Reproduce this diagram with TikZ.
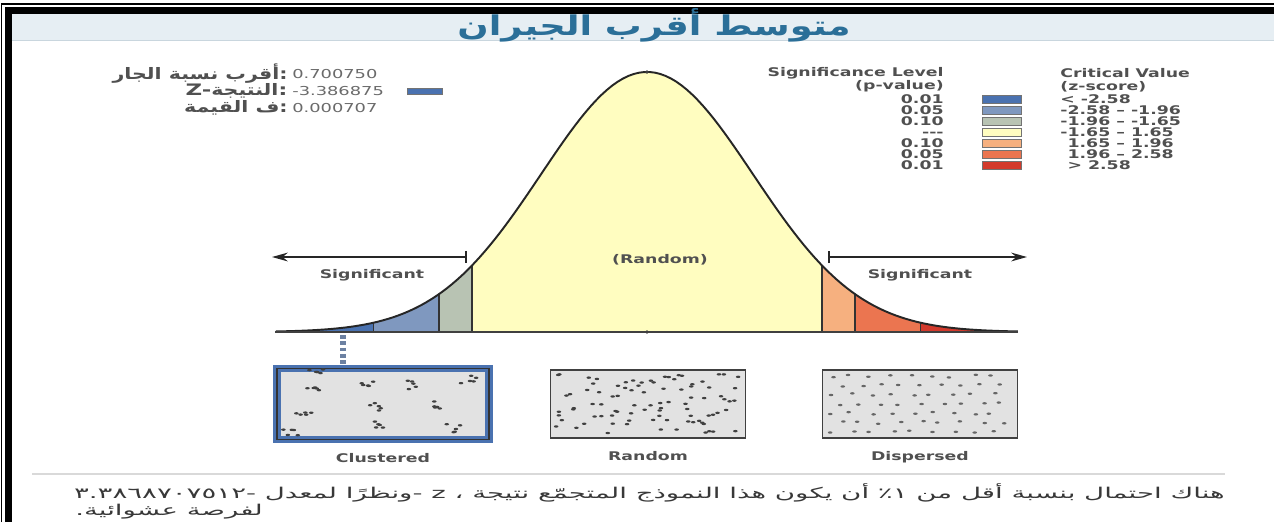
\documentclass[tikz,border=0pt]{standalone}
\usepackage{fontspec}
\setmainfont{DejaVu Sans}[FakeStretch=1.45]
\newfontfamily\arfont[Script=Arabic,FakeStretch=1.3]{DejaVu Sans}
\newfontfamily\arttl[Script=Arabic,FakeStretch=1.35]{DejaVu Sans}
\newfontfamily\arnote[Script=Arabic,FakeStretch=1.85]{DejaVu Sans}
\TeXXeTstate=1
\usetikzlibrary{arrows.meta,positioning}

\definecolor{hdrbg}{HTML}{E6EEF3}
\definecolor{hdrline}{HTML}{C9D6DE}
\definecolor{ttl}{HTML}{2B6F98}
\definecolor{txt}{HTML}{505050}
\definecolor{numc}{HTML}{6A6A6A}
\definecolor{zA}{HTML}{4A72B0}
\definecolor{zB}{HTML}{7F98BF}
\definecolor{zC}{HTML}{B8C3B3}
\definecolor{zD}{HTML}{FFFDC0}
\definecolor{zE}{HTML}{F6B07F}
\definecolor{zF}{HTML}{EB7550}
\definecolor{zG}{HTML}{D33A2C}
\definecolor{boxbg}{HTML}{E2E2E2}

\tikzset{
  legtxt/.style={font=\bfseries\fontsize{6.8}{7.4}\selectfont, text=txt, inner sep=0pt},
  legrow/.style={legtxt, text height=4.6pt, text depth=0pt},
  stat/.style={font=\fontsize{7}{8}\selectfont, text=numc, inner sep=0pt},
  statlbl/.style={font=\bfseries\fontsize{9}{10}\selectfont, text=txt, inner sep=0pt, anchor=east},
  swatch/.style={draw=black!55, line width=0.5pt, minimum width=0.78cm, minimum height=0.16cm, inner sep=0pt},
  ptbox/.style={draw=black!75, line width=1.1pt, fill=boxbg, minimum width=3.9cm, minimum height=1.36cm, inner sep=0pt},
  clbox/.style={draw=zA, line width=4.5pt, fill=boxbg, minimum width=4.24cm, minimum height=1.42cm, inner sep=0pt},
  divline/.style={draw=black!80, line width=1pt},
  note/.style={font=\fontsize{8.5}{10}\selectfont, text=black!78, inner sep=0pt},
  pt/.style={fill=black!75},
  declare function={gx(\z)=647+106*\z; gy(\z)=332-260*exp(-0.5*\z*\z);}
}

\begin{document}
\begin{tikzpicture}[x=0.02cm,y=-0.02cm]
\useasboundingbox (0,0) rectangle (1274,522);

% frame and header
\fill[hdrbg] (12,13) rectangle (1274,40);
\draw[hdrline, line width=0.6pt] (12,40.5) -- (1274,40.5);
\draw[black, line width=0.8pt] (1.5,522) -- (1.5,4) -- (1274,4);
\draw[black, line width=3.5pt] (8.5,522) -- (8.5,10.5) -- (1274,10.5);
\node[font=\bfseries\fontsize{15.5}{17}\selectfont, text=ttl] (title) at (654,25) {\arttl\beginR متوسط أقرب الجيران\endR};

% stats
\node[statlbl] (ratiolbl) at (288,74) {\arfont\beginR أقرب نسبة الجار\endR:};
\node[stat, anchor=west] (ratio) at (292,74) {0.700750};
\node[statlbl] (zlbl) at (288,91) {Z-{\arfont\beginR النتيجة\endR}:};
\node[stat, anchor=west] (zval) at (292,91) {-3.386875};
\node[swatch, fill=zA, minimum width=0.7cm, minimum height=0.12cm, right=0.45cm of zval] (zsw) {};
\node[statlbl] (plbl) at (288,108) {\arfont\beginR ف القيمة\endR:};
\node[stat, anchor=west] (pval) at (292,108) {0.000707};

% legend
\node[legtxt, anchor=south east, align=right] (siglvl) at (944,92) {Significance Level\\(p-value)};
\node[legtxt, anchor=south west, align=left] (critval) at (1060,92) {Critical Value\\(z-score)};
\foreach \p/\c/\v [count=\i] in {0.01/zA/{< -2.58}, 0.05/zB/{-2.58 – -1.96}, 0.10/zC/{-1.96 – -1.65}, {-{}-{}-}/zD/{-1.65 – 1.65}, 0.10/zE/{\phantom{-}1.65 – 1.96}, 0.05/zF/{\phantom{-}1.96 – 2.58}, 0.01/zG/{\phantom{-}> 2.58}} {
  \pgfmathsetmacro\ry{88+11*\i}
  \node[legrow, anchor=east] (p\i) at (944,\ry) {\p};
  \node[swatch, fill=\c] (s\i) at (1002,\ry) {};
  \node[legrow, anchor=west] (v\i) at (1060,\ry) {\v};
}

% bell curve
\foreach \a/\b/\c in {-3.5/-2.58/zA, -2.58/-1.96/zB, -1.96/-1.65/zC, -1.65/1.65/zD, 1.65/1.96/zE, 1.96/2.58/zF, 2.58/3.5/zG} {
  \fill[\c] plot[domain=\a:\b, samples=40] ({gx(\x)},{gy(\x)}) -- ({gx(\b)},332) -- ({gx(\a)},332) -- cycle;
}
\foreach \z in {-2.58,-1.96,-1.65,1.65,1.96,2.58} {
  \draw[divline] ({gx(\z)},332) -- ({gx(\z)},{gy(\z)});
}
\draw[black!85, line width=1.1pt] plot[domain=-3.5:3.5, samples=140] ({gx(\x)},{gy(\x)});
\coordinate (bl) at (275,332);
\coordinate (br) at (1018,332);
\draw[black!75, line width=1pt] (bl) -- (br);
\fill[pt] ({gx(0)},{gy(0)}) circle (1.8);
\fill[pt] ({gx(0)},332) circle (1.8);

% significant arrows
\coordinate (larr) at (272,257);
\coordinate (lbar) at (467,257);
\coordinate (rbar) at (828,257);
\coordinate (rarr) at (1027,257);
\draw[black!85, line width=1pt, {Stealth[length=9pt,width=5pt]}-{Bar[width=7pt]}] (larr) -- (lbar);
\draw[black!85, line width=1pt, {Bar[width=7pt]}-{Stealth[length=9pt,width=5pt]}] (rbar) -- (rarr);
\node[legtxt] (sigl) at (372,275) {Significant};
\node[legtxt] (sigr) at (920,275) {Significant};
\node[legtxt] (rnd) at (660,260) {(Random)};

% pattern boxes
\node[clbox] (clbox) at (383,404) {};
\draw[black!80, line width=0.8pt] ([shift={(4,4)}]clbox.north west) rectangle ([shift={(-4,-4)}]clbox.south east);
\node[ptbox] (rdbox) at (648,404) {};
\node[ptbox] (dsbox) at (920,404) {};
\coordinate (zpt) at (343,335);
\draw[zB!85!black, line width=3pt, dash pattern=on 2pt off 1.6pt] (zpt) -- (zpt |- clbox.north);

\pgfmathsetseed{11}
\foreach \cx/\cy in {313/390, 365/382, 407/385, 468/380, 303/412, 373/407, 432/405, 378/425, 453/428, 315/374, 292/433} {
  \foreach \k in {1,...,5} {
    \pgfmathsetmacro\px{\cx+rand*9}
    \pgfmathsetmacro\py{\cy+rand*5}
    \fill[pt] (\px,\py) ellipse (2.3 and 1.2);
  }
}
\foreach \k in {1,...,90} {
  \pgfmathsetmacro\px{556+rnd*184}
  \pgfmathsetmacro\py{374+rnd*60}
  \fill[pt] (\px,\py) ellipse (2.3 and 1.2);
}
\foreach \i in {0,...,8} {
  \foreach \j in {0,...,6} {
    \pgfmathsetmacro\px{832+\i*20+mod(\j,2)*9+rand*4}
    \pgfmathsetmacro\py{376+\j*9.3+rand*1.5}
    \fill[black!60] (\px,\py) ellipse (2.3 and 1.2);
  }
}
\node[legtxt, below=0.2cm of clbox] (cllbl) {Clustered};
\node[legtxt, below=0.24cm of rdbox] (rdlbl) {Random};
\node[legtxt, below=0.24cm of dsbox] (dslbl) {Dispersed};

% note
\draw[black!15, line width=0.6pt] (32,474) -- (1225,474);
\node[note, anchor=east] (note1) at (1225,493) {\arnote\beginR هناك احتمال بنسبة أقل من ١٪ أن يكون هذا النموذج المتجمّع نتيجة ، z -ونظرًا لمعدل -٣.٣٨٦٨٧٠٧٥١٢\endR};
\node[note, anchor=west] (note2) at (75,512) {\arnote\beginR لفرصة عشوائية.\endR};
\end{tikzpicture}
\end{document}
